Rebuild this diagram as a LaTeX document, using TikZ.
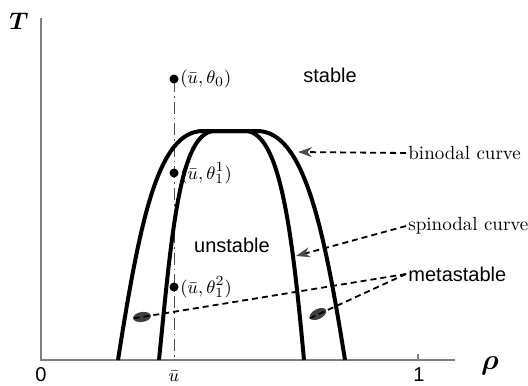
\documentclass[tikz,border=0pt]{standalone}
\usepackage{fontspec}
\usepackage{amsmath,bm}
\newfontfamily\helv{Liberation Sans}
\usetikzlibrary{arrows.meta,shapes.geometric,positioning}

\begin{document}
\begin{tikzpicture}[
  x=0.5pt, y=-0.5pt,
  font=\fontsize{9.5}{11}\selectfont,
  axis/.style={draw=black!50, line width=0.8pt},
  curve/.style={line width=2pt, line join=round},
  pointer/.style={dashed, dash pattern=on 3pt off 2pt, line width=0.9pt,
                  -{Stealth[length=7pt, width=5pt, color=black!70]}},
  metaline/.style={dashed, dash pattern=on 3pt off 2pt, line width=0.9pt},
  dot/.style={circle, fill=black, inner sep=0pt, minimum size=4.5pt},
  ptlbl/.style={inner sep=0.5pt},
  blob/.style={ellipse, fill=black!75, inner sep=0pt, minimum width=9pt, minimum height=5pt},
  sanslbl/.style={font=\helv\fontsize{10}{12}\selectfont},
]
\useasboundingbox (0,0) rectangle (528,385);

% ===== axes =====
\coordinate (origin) at (41,360);
\coordinate (ytop) at (41,18);
\coordinate (xend) at (455,360);
\draw[axis] (ytop) -- (origin) -- (xend);
\draw[axis] (418,360) -- (418,354);
\node (tlbl) at (19,21) {\fontsize{13}{14}\selectfont$\bm{T}$};
\node (rholbl) at (490,366) {\fontsize{14}{15}\selectfont$\bm{\rho}$};
\node (zero) [sanslbl, inner sep=0pt] at (41,375) {0};
\node (one) [sanslbl, inner sep=0pt] at (419,375) {1};
\node (ubar) [inner sep=0pt] at (174,376) {$\bar{u}$};

% ===== vertical line through u-bar =====
\draw[black!70, line width=0.5pt, dash pattern=on 6pt off 2pt on 0.8pt off 2pt] (174,80) -- (174,360);

% ===== binodal and spinodal curves =====
\draw[curve] (118,360) .. controls (140,220) and (158,131) .. (203,131) -- (257,131)
  .. controls (303,131) and (323,222) .. (345,360);
\draw[curve] (159,360) .. controls (172,230) and (180,131) .. (215,131) -- (245,131)
  .. controls (280,131) and (292,230) .. (304,360);

% ===== points on the line =====
\node (p0) [dot] at (174,79) {};
\node (p1) [dot] at (174,173) {};
\node (p2) [dot] at (174,287) {};
\node (p0lbl) [ptlbl, right=0pt of p0] {$(\bar{u},\theta_0)$};
\node (p1lbl) [ptlbl, right=0pt of p1] {$(\bar{u},\theta_1^1)$};
\node (p2lbl) [ptlbl, right=0pt of p2] {$(\bar{u},\theta_1^2)$};

% ===== region names =====
\node (stable) [sanslbl] at (330,75) {stable};
\node (unstable) [sanslbl] at (232,245) {unstable};

% ===== metastable droplets =====
\node (metaL) [blob, rotate=9] at (142,317) {};
\node (metaR) [blob, rotate=27] at (318,314) {};

% ===== labels on the right with pointers =====
\node (binlbl) [anchor=west, inner sep=1pt] at (406,153) {binodal curve};
\node (spinlbl) [anchor=west, inner sep=1pt] at (406,226) {spinodal curve};
\node (metalbl) [sanslbl, anchor=west, inner sep=1pt] at (406,274) {metastable};
\coordinate (bintip) at (298,152);
\coordinate (spintip) at (296,256);
\draw[pointer] (binlbl.west) -- (bintip);
\draw[pointer] (spinlbl.west) -- (spintip);
\draw[metaline] (metalbl.west) -- (metaL.west);
\draw[metaline] (metalbl.west) -- (metaR.west);
\end{tikzpicture}
\end{document}
